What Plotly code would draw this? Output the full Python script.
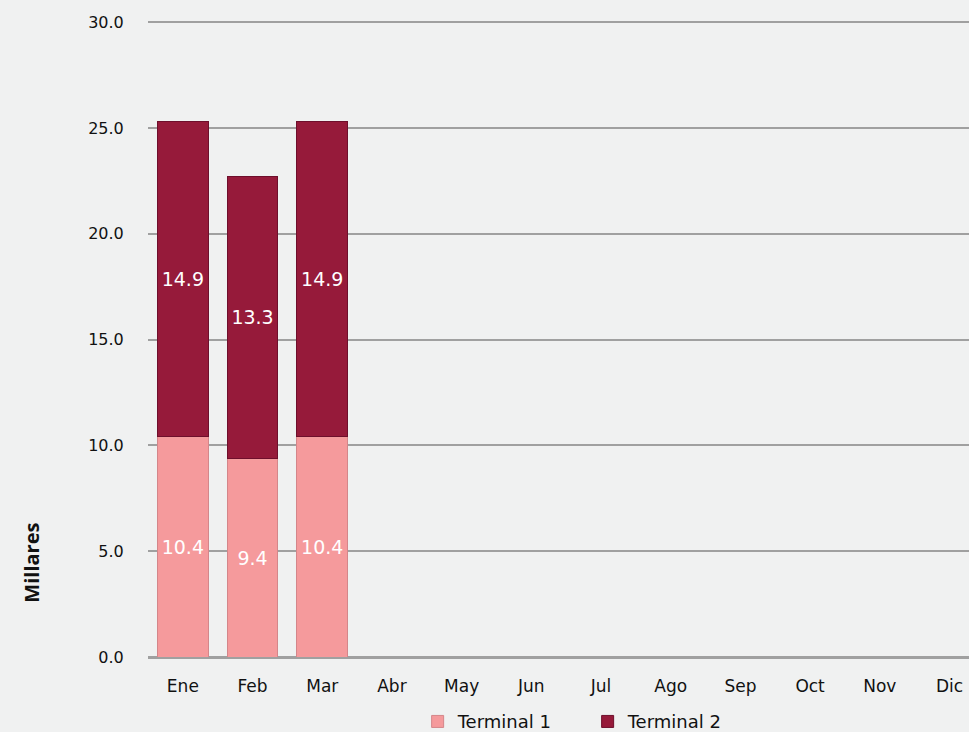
import plotly.graph_objects as go

months = ["Ene", "Feb", "Mar", "Abr", "May", "Jun", "Jul", "Ago", "Sep", "Oct", "Nov", "Dic"]
terminal1 = [10.4, 9.4, 10.4, None, None, None, None, None, None, None, None, None]
terminal2 = [14.9, 13.3, 14.9, None, None, None, None, None, None, None, None, None]
y_ticks = [0, 5, 10, 15, 20, 25, 30]

def fmt(v):
    return "" if v is None else f"{v:.1f}"

fig = go.Figure()
fig.add_trace(go.Bar(
    x=months, y=terminal1, name="Terminal 1",
    marker=dict(color="#F59A9C", line=dict(color="#D4868A", width=1)),
    text=[fmt(v) for v in terminal1], textposition="inside", insidetextanchor="middle",
    textfont=dict(color="white", size=19, family="DejaVu Sans"),
    width=0.73,
))
fig.add_trace(go.Bar(
    x=months, y=terminal2, name="Terminal 2",
    marker=dict(color="#961A3A", line=dict(color="#6E0F2C", width=1)),
    text=[fmt(v) for v in terminal2], textposition="inside", insidetextanchor="middle",
    textfont=dict(color="white", size=19, family="DejaVu Sans"),
    width=0.73,
))

fig.update_layout(
    barmode="stack",
    width=969, height=732,
    margin=dict(l=148, r=0, t=18, b=75, autoexpand=False),
    paper_bgcolor="#F0F1F1",
    plot_bgcolor="#F0F1F1",
    font=dict(family="DejaVu Sans", size=16, color="#111111"),
    showlegend=True,
    legend=dict(orientation="h", x=0.431, xanchor="left", y=0.014, yanchor="middle",
                xref="container", yref="container",
                font=dict(family="DejaVu Sans", size=18, color="#111111"),
                bgcolor="rgba(0,0,0,0)", itemwidth=30, traceorder="normal",
                entrywidth=125),
    uniformtext=dict(mode=False),
)
fig.update_xaxes(
    type="category", categoryorder="array", categoryarray=months,
    range=[-0.5, 11.28],
    showgrid=False, zeroline=False, showline=False,
    ticks="outside", ticklen=14, tickcolor="rgba(0,0,0,0)",
    tickfont=dict(size=17),
)
fig.update_yaxes(
    range=[0, 30.2], tickvals=y_ticks, tickformat=".1f",
    showgrid=True, gridcolor="#A0A0A0", gridwidth=2,
    zeroline=True, zerolinecolor="#A0A0A0", zerolinewidth=3,
    showline=False,
    ticks="outside", ticklen=20, tickcolor="rgba(0,0,0,0)",
    tickfont=dict(size=16),
)
fig.add_annotation(
    text="<b>Millares</b>", xref="paper", yref="paper",
    x=-0.143, y=0.147, xanchor="center", yanchor="middle",
    textangle=-90, showarrow=False,
    font=dict(family="Open Sans", size=20, color="#111111"),
)

fig.write_html("out.html", config={"displayModeBar": False},
               post_script="document.body.style.margin='0';")
